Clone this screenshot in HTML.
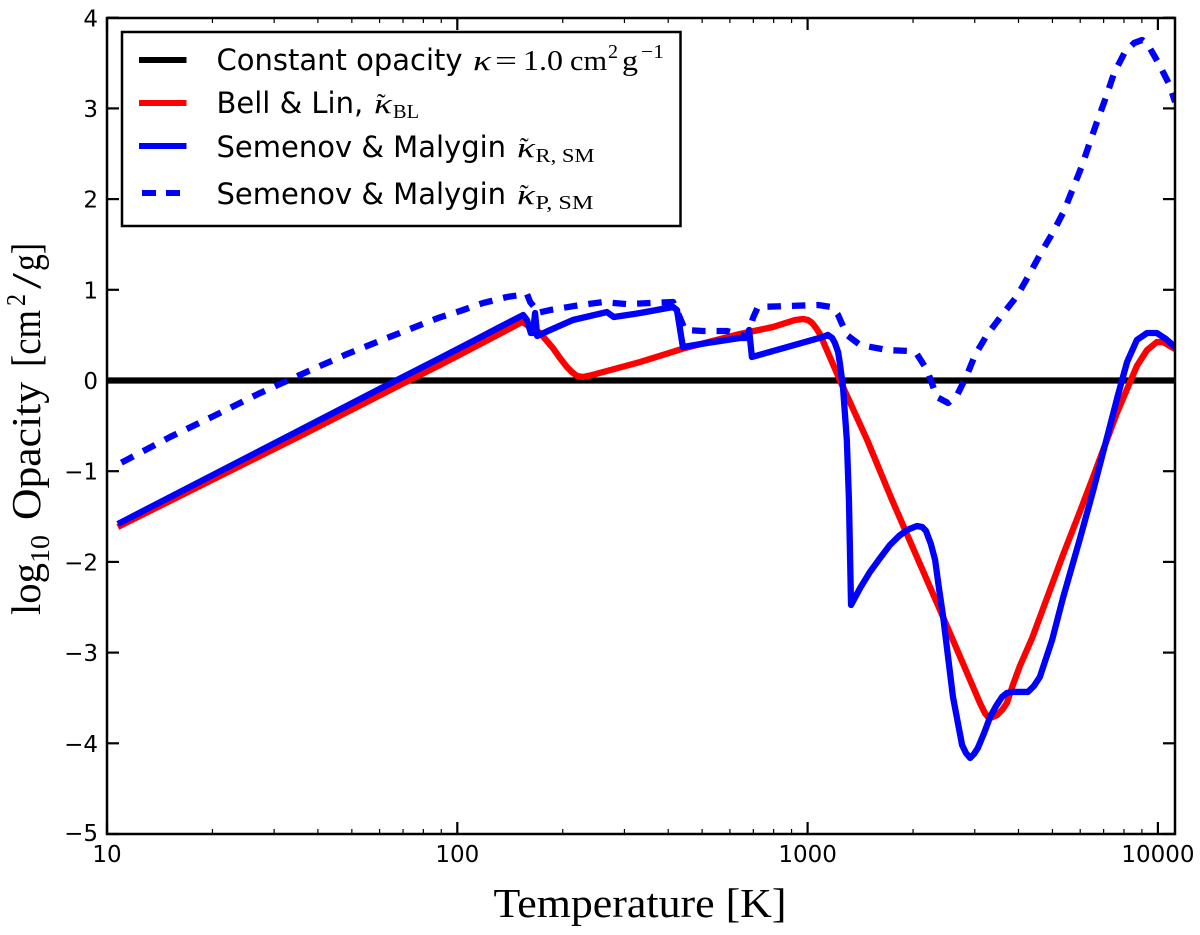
<!DOCTYPE html>
<html>
<head>
<meta charset="utf-8">
<title>Opacity vs temperature</title>
<style>
html,body{margin:0;padding:0;background:#fff;}
svg{display:block;}
.sans{font-family:"DejaVu Sans","Liberation Sans",sans-serif;}
.serif{font-family:"Liberation Serif","DejaVu Serif",serif;}
</style>
</head>
<body>
<svg id="chart" xmlns="http://www.w3.org/2000/svg" width="1200" height="935" viewBox="0 0 1200 935">
  <rect x="0" y="0" width="1200" height="935" fill="#fff"/>
  <defs><clipPath id="plot-clip"><rect x="107" y="18" width="1068" height="816"/></clipPath></defs>
  <g id="series" clip-path="url(#plot-clip)"></g>
  <g id="ticks"></g>
  <rect x="107" y="18" width="1068" height="816" fill="none" stroke="#000" stroke-width="2.5"/>
  <g id="tick-labels" class="sans" font-size="23" fill="#000"></g>

  <g class="serif" fill="#000">
    <text x="493.5" y="917" font-size="41" textLength="293" lengthAdjust="spacingAndGlyphs">Temperature [K]</text>
  </g>
  <g class="serif" fill="#000">
    <text transform="translate(40,615) rotate(-90)" font-size="41" textLength="52" lengthAdjust="spacingAndGlyphs">log</text>
    <text transform="translate(49,563) rotate(-90)" font-size="27" textLength="28" lengthAdjust="spacingAndGlyphs">10</text>
    <text transform="translate(40,520) rotate(-90)" font-size="41" textLength="138" lengthAdjust="spacingAndGlyphs">Opacity</text>
    <text transform="translate(40,367) rotate(-90)" font-size="41" textLength="57" lengthAdjust="spacingAndGlyphs">[cm</text>
    <text transform="translate(25,306) rotate(-90)" font-size="27" textLength="12" lengthAdjust="spacingAndGlyphs">2</text>
    <text transform="translate(40,289) rotate(-90)" font-size="41" textLength="16" lengthAdjust="spacingAndGlyphs">/</text>
    <text transform="translate(40,271) rotate(-90)" font-size="41" textLength="28" lengthAdjust="spacingAndGlyphs">g]</text>
  </g>

  <g>
    <rect x="122" y="32" width="558.5" height="194" fill="#fff" stroke="#000" stroke-width="2.5"/>

    <g>
      <line x1="139" y1="60" x2="186.5" y2="60" stroke="#000" stroke-width="6"/>
      <text class="sans" x="216.5" y="70" font-size="29" fill="#000">Constant opacity</text>
      <g class="serif" fill="#000">
        <text x="473" y="70" font-size="29" font-style="italic" textLength="18" lengthAdjust="spacingAndGlyphs">κ</text>
        <text x="495" y="70" font-size="29" textLength="22" lengthAdjust="spacingAndGlyphs">=</text>
        <text x="523" y="70" font-size="29" textLength="40" lengthAdjust="spacingAndGlyphs">1.0</text>
        <text x="570" y="70" font-size="29" textLength="37" lengthAdjust="spacingAndGlyphs">cm</text>
        <text x="608" y="58" font-size="20" textLength="10" lengthAdjust="spacingAndGlyphs">2</text>
        <text x="622" y="70" font-size="29" textLength="16" lengthAdjust="spacingAndGlyphs">g</text>
        <text x="641" y="58" font-size="20" textLength="23" lengthAdjust="spacingAndGlyphs">−1</text>
      </g>
    </g>

    <g>
      <line x1="139" y1="103" x2="186.5" y2="103" stroke="#f00" stroke-width="6"/>
      <text class="sans" x="216.5" y="113" font-size="29" fill="#000">Bell &amp; Lin,</text>
      <g class="serif" fill="#000">
        <text x="374" y="113" font-size="29" font-style="italic" textLength="18" lengthAdjust="spacingAndGlyphs">κ</text>
        <text x="377" y="112" font-size="26">˜</text>
        <text x="393" y="118" font-size="20" textLength="26" lengthAdjust="spacingAndGlyphs">BL</text>
      </g>
    </g>

    <g>
      <line x1="139" y1="146" x2="186.5" y2="146" stroke="#00f" stroke-width="6"/>
      <text class="sans" x="216.5" y="157" font-size="29" fill="#000">Semenov &amp; Malygin</text>
      <g class="serif" fill="#000">
        <text x="517" y="157" font-size="29" font-style="italic" textLength="18" lengthAdjust="spacingAndGlyphs">κ</text>
        <text x="520" y="156" font-size="26">˜</text>
        <text x="535.5" y="162" font-size="20" textLength="59" lengthAdjust="spacingAndGlyphs">R, SM</text>
      </g>
    </g>

    <g>
      <line x1="142" y1="193" x2="180" y2="193" stroke="#00f" stroke-width="6" stroke-dasharray="14 10"/>
      <text class="sans" x="216.5" y="204" font-size="29" fill="#000">Semenov &amp; Malygin</text>
      <g class="serif" fill="#000">
        <text x="517" y="204" font-size="29" font-style="italic" textLength="18" lengthAdjust="spacingAndGlyphs">κ</text>
        <text x="520" y="203" font-size="26">˜</text>
        <text x="535.5" y="209" font-size="20" textLength="58" lengthAdjust="spacingAndGlyphs">P, SM</text>
      </g>
    </g>
  </g>
</svg>

<script>
// Axis tick values
const xMajorTicks = [10, 100, 1000, 10000];
const xMinorFactors = [2, 3, 4, 5, 6, 7, 8, 9];
const yTicks = [-5, -4, -3, -2, -1, 0, 1, 2, 3, 4];
const xTickLabels = ["10", "100", "1000", "10000"];
const yTickLabels = ["−5", "−4", "−3", "−2", "−1", "0", "1", "2", "3", "4"];

// Constant opacity: log10 kappa
const constantLogT = [1, 4.049];
const constantLogK = [0, 0];

// Bell & Lin: log10 T, log10 kappa
const bellLinLogT = [1.031,1.551,1.836,1.951,2.065,2.142,2.185,2.236,2.273,2.293,2.313,2.327,2.342,2.359,2.379,2.427,2.522,2.650,2.807,2.901,2.964,2.987,3.001,3.013,3.024,3.035,3.092,3.170,3.241,3.378,3.492,3.506,3.515,3.526,3.541,3.555,3.569,3.586,3.606,3.641,3.729,3.778,3.815,3.883,3.940,3.969,3.997,4.015,4.049];
const bellLinLogK = [-1.615,-0.612,-0.050,0.171,0.402,0.557,0.645,0.524,0.358,0.248,0.149,0.094,0.050,0.039,0.055,0.105,0.204,0.358,0.513,0.590,0.667,0.678,0.667,0.634,0.579,0.513,0.006,-0.656,-1.317,-2.530,-3.556,-3.666,-3.710,-3.715,-3.688,-3.633,-3.556,-3.357,-3.148,-2.839,-1.924,-1.439,-1.064,-0.358,0.160,0.336,0.424,0.424,0.347];

// Semenov & Malygin Rosseland: log10 T, log10 kappa
const rosselandLogT = [1.031,1.551,1.825,1.951,2.045,2.113,2.188,2.199,2.210,2.216,2.222,2.228,2.265,2.330,2.427,2.447,2.522,2.616,2.627,2.644,2.713,2.807,2.827,2.833,2.841,3.044,3.058,3.070,3.078,3.087,3.092,3.101,3.112,3.118,3.124,3.150,3.178,3.207,3.235,3.261,3.284,3.312,3.327,3.338,3.352,3.364,3.375,3.387,3.415,3.441,3.452,3.464,3.475,3.486,3.504,3.521,3.538,3.555,3.569,3.583,3.629,3.646,3.663,3.698,3.729,3.778,3.815,3.855,3.886,3.912,3.940,3.969,3.997,4.023,4.049];
const rosselandLogK = [-1.582,-0.546,0,0.248,0.435,0.573,0.722,0.667,0.524,0.524,0.744,0.491,0.557,0.667,0.755,0.700,0.744,0.810,0.777,0.369,0.413,0.469,0.469,0.557,0.259,0.480,0.502,0.469,0.413,0.314,0.193,-0.072,-0.656,-1.317,-2.475,-2.288,-2.111,-1.957,-1.814,-1.714,-1.648,-1.604,-1.615,-1.659,-1.803,-1.979,-2.288,-2.607,-3.489,-4.019,-4.107,-4.162,-4.118,-4.052,-3.886,-3.710,-3.589,-3.489,-3.445,-3.434,-3.434,-3.368,-3.269,-2.861,-2.398,-1.736,-1.218,-0.623,-0.160,0.204,0.447,0.524,0.524,0.458,0.369];

// Semenov & Malygin Planck: log10 T, log10 kappa
const planckLogT = [1.031,1.180,1.305,1.431,1.557,1.685,1.814,1.945,2.008,2.073,2.142,2.199,2.208,2.222,2.228,2.265,2.350,2.416,2.484,2.550,2.616,2.630,2.650,2.701,2.770,2.830,2.844,2.858,2.941,3.030,3.070,3.087,3.112,3.150,3.227,3.292,3.312,3.341,3.369,3.401,3.427,3.455,3.478,3.512,3.555,3.598,3.632,3.666,3.701,3.732,3.758,3.783,3.806,3.826,3.852,3.875,3.906,3.932,3.955,3.972,4.000,4.032,4.049];
const planckLogK = [-0.926,-0.623,-0.391,-0.149,0.072,0.292,0.491,0.689,0.766,0.854,0.921,0.954,0.865,0.799,0.744,0.777,0.832,0.865,0.843,0.854,0.865,0.744,0.557,0.546,0.546,0.480,0.689,0.810,0.821,0.832,0.810,0.722,0.502,0.391,0.336,0.325,0.292,0.116,-0.182,-0.248,-0.160,0.061,0.281,0.502,0.722,0.932,1.163,1.406,1.637,1.869,2.122,2.365,2.629,2.850,3.126,3.390,3.622,3.721,3.754,3.699,3.511,3.269,3.070];

const SVG_NS = "http://www.w3.org/2000/svg";
const seriesLayer = document.getElementById("series");
const tickLayer = document.getElementById("ticks");
const labelLayer = document.getElementById("tick-labels");

function xScale(logT) { return 107 + (logT - 1) * 350.3; }
function yScale(logK) { return 380.5 - logK * 90.7; }

function pointsOf(xs, ys) {
  return xs.map(function (v, i) {
    return xScale(v).toFixed(2) + "," + yScale(ys[i]).toFixed(2);
  }).join(" ");
}

function makeSeries(xs, ys, color, dash) {
  const el = document.createElementNS(SVG_NS, "polyline");
  el.setAttribute("points", pointsOf(xs, ys));
  el.setAttribute("fill", "none");
  el.setAttribute("stroke", color);
  el.setAttribute("stroke-width", "6.3");
  el.setAttribute("stroke-linejoin", "round");
  if (dash) {
    el.setAttribute("stroke-dasharray", dash);
    el.setAttribute("stroke-dashoffset", "-4");
  }
  seriesLayer.appendChild(el);
  return el;
}

function makeTick(x1, y1, x2, y2, width) {
  const el = document.createElementNS(SVG_NS, "line");
  el.setAttribute("x1", x1);
  el.setAttribute("y1", y1);
  el.setAttribute("x2", x2);
  el.setAttribute("y2", y2);
  el.setAttribute("stroke", "#000");
  el.setAttribute("stroke-width", width);
  tickLayer.appendChild(el);
  return el;
}

function makeLabel(x, y, anchor, text) {
  const el = document.createElementNS(SVG_NS, "text");
  el.setAttribute("x", x);
  el.setAttribute("y", y);
  el.setAttribute("text-anchor", anchor);
  el.textContent = text;
  labelLayer.appendChild(el);
  return el;
}

const constantLine = makeSeries(constantLogT, constantLogK, "#000", null);



const bellLinLine = makeSeries(bellLinLogT, bellLinLogK, "#f00", null);



const planckLine = makeSeries(planckLogT, planckLogK, "#00f", "13.5 11");



const rosselandLine = makeSeries(rosselandLogT, rosselandLogK, "#00f", null);



xMajorTicks.forEach(function (t, i) {
  const x = xScale(Math.log10(t));
  const bottom = makeTick(x, 834, x, 822, 2.2);
  
  
  const top = makeTick(x, 18, x, 30, 2.2);
  
  
  const label = makeLabel(x, 862, "middle", xTickLabels[i]);
  
  
  if (i < xMajorTicks.length - 1) {
    xMinorFactors.forEach(function (f) {
      const mx = xScale(Math.log10(t * f));
      const minorBottom = makeTick(mx, 834, mx, 829, 1.2);
      
      
      const minorTop = makeTick(mx, 18, mx, 23, 1.2);
      
      
    });
  }
});

yTicks.forEach(function (v, i) {
  const y = yScale(v);
  const left = makeTick(107, y, 119, y, 2.2);
  
  
  const right = makeTick(1175, y, 1163, y, 2.2);
  
  
  const labelY = v === 4 ? y + 9 : (v === -5 ? y + 7 : y + 8.5);
  const label = makeLabel(98, labelY, "end", yTickLabels[i]);
  
  
});
</script>
</body>
</html>
